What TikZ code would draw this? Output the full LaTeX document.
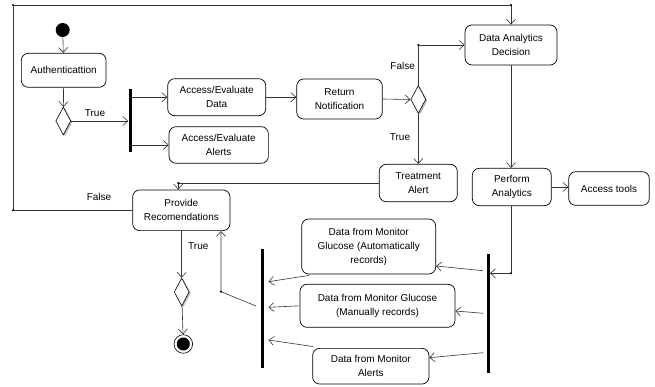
\documentclass[tikz,border=0pt]{standalone}
\usepackage{fontspec}
\setmainfont{Liberation Sans}
\usetikzlibrary{arrows.meta,shapes.geometric,shadows,calc}
\begin{document}
\begin{tikzpicture}[x=1pt,y=-1pt,
  font=\fontsize{10}{14}\selectfont,
  act/.style={draw=black,line width=0.7pt,rounded corners=7pt,fill=white,
    align=center,inner sep=0pt},
  dec/.style={draw=black,line width=0.6pt,shape=diamond,fill=white,inner sep=0pt,
    minimum width=15pt,minimum height=28pt,
    drop shadow={shadow xshift=1.6pt,shadow yshift=-1.2pt,fill=gray!55,opacity=1}},
  bar/.style={fill=black,inner sep=0pt,minimum width=3pt},
  flow/.style={draw=black!80,line width=0.6pt,-{Straight Barb[length=5pt,width=9pt]}},
  line/.style={draw=black!80,line width=0.6pt},
  jdot/.style={circle,fill=black,inner sep=0pt,minimum size=2.4pt},
  lbl/.style={inner sep=0pt}]
\useasboundingbox (0,0) rectangle (655,387);

% activities
\node[act,minimum width=84.7pt,minimum height=34pt] (auth) at (63.7,70.3) {Authenticattion};
\node[act,minimum width=98pt,minimum height=37pt] (aed) at (216.7,97.2) {Access/Evaluate\\Data};
\node[act,minimum width=99.3pt,minimum height=36.6pt] (aea) at (218.7,145) {Access/Evaluate\\Alerts};
\node[act,minimum width=85.6pt,minimum height=40pt] (rn) at (339.5,99) {Return\\Notification};
\node[act,minimum width=92pt,minimum height=40pt] (dad) at (511,45) {Data Analytics\\Decision};
\node[act,minimum width=78pt,minimum height=37.4pt] (ta) at (418.3,183) {Treatment\\Alert};
\node[act,minimum width=79pt,minimum height=37.4pt] (pa) at (511.8,187) {Perform\\Analytics};
\node[act,minimum width=80.6pt,minimum height=33.6pt] (at) at (609,188.5) {Access tools};
\node[act,minimum width=97.3pt,minimum height=40.7pt] (pr) at (181.3,210.3) {Provide\\Recomendations};
\node[act,minimum width=134pt,minimum height=55pt] (auto) at (368.7,246.5) {Data from Monitor\\Glucose (Automatically\\records)};
\node[act,minimum width=155pt,minimum height=43pt] (man) at (377.5,305.8) {Data from Monitor Glucose\\(Manually records)};
\node[act,minimum width=116.3pt,minimum height=35.7pt] (alr) at (370.8,366.2) {Data from Monitor\\Alerts};

% initial and final nodes
\node[circle,fill=black,minimum size=14pt,inner sep=0pt] (init) at (62.7,30) {};
\node[circle,draw=black,line width=0.6pt,fill=white,minimum size=18.6pt,inner sep=0pt] (fin) at (183.3,344) {};
\node[circle,fill=black,minimum size=13pt,inner sep=0pt] at (fin) {};

% decisions
\node[dec] (d1) at (63.3,121) {};
\node[dec] (d2) at (418.3,99.5) {};
\node[dec] (d3) at (181.7,292) {};

% fork / join bars
\node[bar,minimum height=62.4pt] (bar1) at (130,120.5) {};
\node[bar,minimum height=119.3pt] (bar2) at (262.3,308.7) {};
\node[bar,minimum height=118.7pt] (bar3) at (488.3,313.3) {};

% bend points
\coordinate (k1) at (178.3,183);
\coordinate (c1) at (13,210.3);
\coordinate (c2) at (13,5);
\coordinate (c3) at (511,5);
\coordinate (k2) at (221,291.7);
\coordinate (b2o) at (256,306);
\coordinate (k3) at (511,273.3);

% connectors
\draw[flow] (init) -- (auth);
\draw[flow] (auth) -- (d1);
\draw[flow] (d1.east) -- (d1.east -| bar1.west);
\draw[flow] (aed.west -| bar1.east) -- (aed.west);
\draw[flow] (aea.west -| bar1.east) -- (aea.west);
\draw[flow] (aed.east) -- (aed.east -| rn.west);
\draw[flow] (rn.east) -- (d2.west);
\draw[flow] (d2.north) -- (d2.north |- dad.west) -- (dad.west);
\node[jdot] at (d2.north |- dad.west) {};
\draw[flow] (d2) -- (ta);
\draw[flow] (dad.south) -- (dad.south |- pa.north);
\draw[flow] (pa.east) -- (pa.east -| at.west);
\draw[flow] (ta.west) -- (k1) -- (k1 |- pr.north);
\node[jdot] at (k1) {};
\draw[flow] (pr.west) -- (c1) -- (c2) -- (c3) -- (dad.north);
\node[jdot] at (c1) {};
\node[jdot] at (c2) {};
\node[jdot] at (c3) {};
\draw[flow] (pr.south -| d3) -- (d3);
\draw[flow] (d3) -- (fin);
\draw[flow] (b2o) -- (k2) -- (k2 |- pr.south);
\node[jdot] at (k2) {};
\draw[flow] ($(auto.south west)+(8,1)$) -- ($(bar2.east)+(4.5,-27)$);
\draw[flow] (man.west) -- ($(bar2.east)+(4.5,-1.4)$);
\draw[flow] ($(alr.north west)+(0.5,-1.5)$) -- ($(bar2.east)+(4.5,31.3)$);
\draw[flow] ($(bar3.west)+(-3.5,-42.6)$) -- ($(auto.east)+(0,19.5)$);
\draw[flow] ($(bar3.west)+(-3.5,0)$) -- ($(man.east)+(0,5.2)$);
\draw[flow] ($(bar3.west)+(-3.5,39.4)$) -- ($(alr.east)+(0,-8.5)$);
\draw[flow] (pa.south -| k3) -- (k3) -- (k3 -| bar3.east);
\node[jdot] at (k3) {};

% guard labels
\node[lbl] at (95,113) {True};
\node[lbl] at (402.7,65.7) {False};
\node[lbl] at (400,136.7) {True};
\node[lbl] at (99,196.7) {False};
\node[lbl] at (198.3,246) {True};
\end{tikzpicture}
\end{document}
